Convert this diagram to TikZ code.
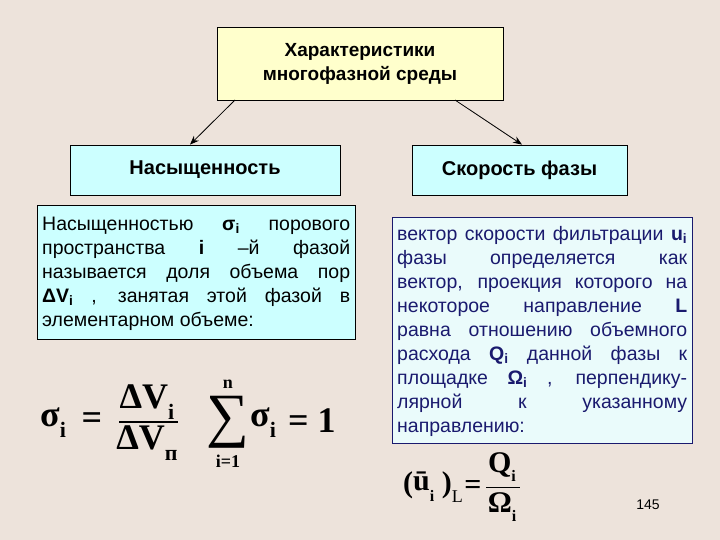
\documentclass[tikz,border=0pt]{standalone}
\usepackage{fontspec}
\setmainfont{Liberation Sans}
\newfontfamily\ser{Liberation Serif}
\usetikzlibrary{arrows.meta}
\definecolor{bg}{HTML}{EDE3DB}
\definecolor{ylw}{HTML}{FFFFCC}
\definecolor{cyn}{HTML}{CCFFFF}
\definecolor{lcyn}{HTML}{EAFBFB}
\definecolor{dblue}{HTML}{1A1A6E}
\newcommand{\jl}[2]{\makebox[#1][s]{#2}\\}
\newcommand{\sbs}[1]{\raisebox{-0.3em}{\fontsize{22}{22}\selectfont #1}}
\newcommand{\sbt}[1]{\raisebox{-0.3em}{\fontsize{16}{16}\selectfont #1}}
\tikzset{
 box/.style={draw=black, line width=0.8pt, inner sep=0pt},
 arr/.style={-{Stealth[length=9pt,width=7pt]}, line width=0.8pt},
 body/.style={font=\fontsize{19.5}{24}\selectfont, align=left, anchor=north west, inner sep=0pt},
 frm/.style={font=\ser\bfseries\fontsize{36}{40}\selectfont, inner sep=0pt},
 frs/.style={font=\ser\bfseries\fontsize{30}{34}\selectfont, inner sep=0pt},
 frt/.style={font=\ser\bfseries\fontsize{18}{20}\selectfont, inner sep=0pt}
}
\begin{document}
\begin{tikzpicture}[x=1pt,y=-1pt]
\fill[bg] (0,0) rectangle (720,540);
\useasboundingbox (0,0) rectangle (720,540);
% top
\node[box, fill=ylw, minimum width=286pt, minimum height=73pt, font=\bfseries\fontsize{19}{24}\selectfont, align=center] (top) at (360,63.5) {Характеристики\\многофазной среды};
\node[box, fill=cyn, minimum width=270pt, minimum height=50pt, font=\bfseries\fontsize{20}{24}\selectfont] (sat) at (205,170) {Насыщенность};
\node[box, fill=cyn, minimum width=215pt, minimum height=50pt, font=\bfseries\fontsize{20}{24}\selectfont] (vel) at (519.5,170) {Скорость фазы};
\coordinate (a1) at (235,100);
\coordinate (a2) at (455,100);
\draw[arr] (a1) -- (sat.north -| 190,0);
\draw[arr] (a2) -- (vel.north -| 522,0);
% left text box
\node[box, fill=cyn, minimum width=318pt, minimum height=134pt, anchor=north west] (lt) at (37,205) {};
\node[body] (ltx) at (42,217) {%
\jl{308pt}{Насыщенностью {\bfseries σ\textsubscript{i}} порового}%
\jl{308pt}{пространства {\bfseries i} –й фазой}%
\jl{308pt}{называется доля объема пор}%
\jl{308pt}{{\bfseries ΔV\textsubscript{i}} , занятая этой фазой в}%
элементарном объеме:};
% right text box
\node[draw=dblue, line width=0.8pt, fill=lcyn, minimum width=300pt, minimum height=226pt, anchor=north west, inner sep=0pt] (rt) at (392,217) {};
\node[body, text=dblue] (rtx) at (397,226) {%
\jl{290pt}{вектор скорости фильтрации {\bfseries u\textsubscript{i}}}%
\jl{290pt}{фазы определяется как}%
\jl{290pt}{вектор, проекция которого на}%
\jl{290pt}{некоторое направление {\bfseries L}}%
\jl{290pt}{равна отношению объемного}%
\jl{290pt}{расхода {\bfseries Q\textsubscript{i}} данной фазы к}%
\jl{290pt}{площадке {\bfseries Ω\textsubscript{i}} , перпендику-}%
\jl{290pt}{лярной к указанному}%
направлению:};
% formula 1
\node[frm, anchor=west] (s1) at (40,423) {σ\sbs{i}};
\node[frm] (e1) at (92,421) {=};
\node[frm] (n1) at (147,402) {ΔV\sbs{i}};
\node[frm] (d1) at (147,443) {ΔV\sbs{п}};
\draw[line width=1.2pt] (n1.south west |- 0,422) -- (d1.south east |- 0,422) coordinate (bar1);
% formula 2
\node[font=\ser\fontsize{60}{60}\selectfont, inner sep=0pt] (sum) at (228,422) {∑};
\node[frt] (up) at (228,384) {n};
\node[frt] (lo) at (228,461) {i=1};
\node[frm, anchor=west] (s2) at (250,423) {σ\sbs{i}};
\node[frm, anchor=west] (e2) at (288,421) {= 1};
% formula 3
\node[frs, anchor=west] (u3) at (403,487) {(\raisebox{0.05em}{ū}\sbt{i} )\raisebox{-0.35em}{\fontsize{18}{18}\selectfont\mdseries L}};
\node[frs] (e3) at (473,487) {=};
\node[frs] (n3) at (502,467) {Q\sbt{i}};
\node[frs] (d3) at (502,507) {Ω\sbt{i}};
\draw[line width=1pt] (486,487) coordinate (b3a) -- (520,487) coordinate (b3b);
\node[font=\fontsize{14}{16}\selectfont, inner sep=0pt] (pg) at (648,505) {145};
\end{tikzpicture}
\end{document}
